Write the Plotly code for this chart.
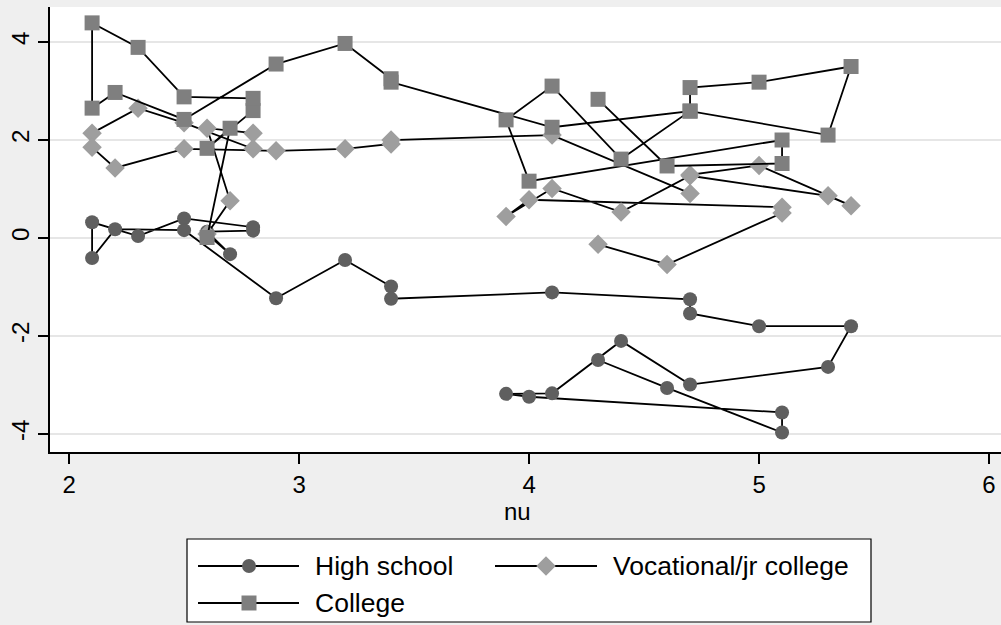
import plotly.graph_objects as go

# Observations in data order (lines connect consecutive rows)
nu = [2.6, 2.7, 2.6, 2.8, 2.8, 2.5, 2.3, 2.1, 2.1, 2.2, 2.5, 2.9, 3.2, 3.4, 3.4,
      4.1, 4.7, 4.7, 5.0, 5.4, 5.3, 4.7, 4.4, 4.1, 3.9, 4.0, 5.1, 5.1, 4.6, 4.3]
high_school = [0.08, -0.33, 0.13, 0.15, 0.22, 0.40, 0.04, 0.32, -0.41, 0.18, 0.16,
               -1.23, -0.45, -0.99, -1.24, -1.11, -1.25, -1.54, -1.80, -1.80, -2.63,
               -2.99, -2.10, -3.17, -3.18, -3.24, -3.56, -3.97, -3.06, -2.49]
vocational = [0.08, 0.76, 2.24, 2.14, 1.82, 2.35, 2.65, 2.14, 1.85, 1.43, 1.82,
              1.78, 1.82, 1.92, 2.00, 2.10, 0.91, 1.29, 1.48, 0.66, 0.86,
              1.27, 0.53, 1.01, 0.44, 0.78, 0.63, 0.51, -0.54, -0.13]
college = [0.01, 2.24, 1.83, 2.60, 2.85, 2.88, 3.89, 4.39, 2.65, 2.97, 2.42,
           3.55, 3.97, 3.25, 3.18, 2.26, 2.59, 3.07, 3.18, 3.50, 2.10,
           2.59, 1.61, 3.10, 2.41, 1.16, 2.00, 1.52, 1.47, 2.83]

series_names = ["High school", "Vocational/jr college", "College"]
x_ticks = [2, 3, 4, 5, 6]
y_ticks = [-4, -2, 0, 2, 4]
y_tick_text = ["-4", "-2", "0", "2", "4"]

W, H = 1001, 625
FONT = "Liberation Sans, Arial, Helvetica, sans-serif"
GRAY_BG = "#efefef"
TICK_SIZE = 24
LEGEND_SIZE = 26.5
styles = [
    dict(symbol="circle", size=14, color="#5f5f5f"),
    dict(symbol="diamond", size=15, color="#9e9e9e"),
    dict(symbol="square", size=15, color="#7f7f7f"),
]


def px(x):
    return x / W


def py(y):
    return 1 - y / H


fig = go.Figure()

for name, ys, st in zip(series_names, [high_school, vocational, college], styles):
    fig.add_trace(go.Scatter(
        x=nu, y=ys, mode="lines+markers", name=name, showlegend=False,
        line=dict(color="black", width=1.8),
        marker=dict(symbol=st["symbol"], size=st["size"], color=st["color"],
                    line=dict(width=0)),
        xaxis="x", yaxis="y",
    ))

# Legend drawn on its own pixel-scaled axes
leg_left, leg_right, leg_top, leg_bottom = 187, 871, 539, 622
legend_rows = [(249, 566, 198, 299, 313), (546, 566, 495, 597, 611), (249, 603, 198, 299, 313)]
for (mx, my, l0, l1, tx), name, st in zip(legend_rows, series_names, styles):
    fig.add_trace(go.Scatter(
        x=[l0, mx, l1], y=[my, my, my], mode="lines", showlegend=False,
        line=dict(color="black", width=1.8), xaxis="x2", yaxis="y2", hoverinfo="skip",
    ))
    fig.add_trace(go.Scatter(
        x=[mx], y=[my], mode="markers", showlegend=False,
        marker=dict(symbol=st["symbol"], size=st["size"], color=st["color"]),
        xaxis="x2", yaxis="y2", hoverinfo="skip",
    ))
    fig.add_annotation(x=tx, y=my, xref="x2", yref="y2", text=name, showarrow=False,
                       xanchor="left", yanchor="middle",
                       font=dict(family=FONT, size=LEGEND_SIZE, color="black"))

fig.add_shape(type="rect", xref="paper", yref="paper",
              x0=px(leg_left), x1=px(leg_right), y0=py(leg_bottom), y1=py(leg_top),
              line=dict(color="black", width=1.2), fillcolor="rgba(0,0,0,0)")

plot_left, plot_top, plot_bottom = 50, 7, 452
fig.update_layout(
    width=W, height=H,
    margin=dict(l=0, r=0, t=0, b=0),
    paper_bgcolor=GRAY_BG, plot_bgcolor="white",
    font=dict(family=FONT, size=TICK_SIZE, color="black"),
    xaxis=dict(
        domain=[px(plot_left), 1], range=[1.917, 6.052], autorange=False,
        tickvals=x_ticks, ticks="outside", ticklen=10, tickwidth=1.5, tickcolor="black",
        showline=True, linecolor="black", linewidth=1.5, showgrid=False, zeroline=False,
        tickfont=dict(size=TICK_SIZE), anchor="y",
    ),
    yaxis=dict(
        domain=[py(plot_bottom), py(plot_top)], range=[-4.367, 4.714], autorange=False,
        tickvals=y_ticks, ticktext=y_tick_text, tickangle=-90,
        ticks="outside", ticklen=10, tickwidth=1.5, tickcolor="black",
        showline=True, linecolor="black", linewidth=1.5,
        showgrid=True, gridcolor="#e6e6e6", gridwidth=2, zeroline=False,
        tickfont=dict(size=TICK_SIZE), anchor="x",
    ),
    xaxis2=dict(domain=[px(leg_left), px(leg_right)], range=[leg_left, leg_right],
                autorange=False, visible=False, anchor="y2"),
    yaxis2=dict(domain=[py(leg_bottom), py(leg_top)], range=[leg_bottom, leg_top],
                autorange=False, visible=False, anchor="x2"),
)

fig.add_annotation(x=px(517), y=py(511), xref="paper", yref="paper", text="nu",
                   showarrow=False, xanchor="center", yanchor="middle",
                   font=dict(family=FONT, size=TICK_SIZE, color="black"))

fig.write_html("out.html")
